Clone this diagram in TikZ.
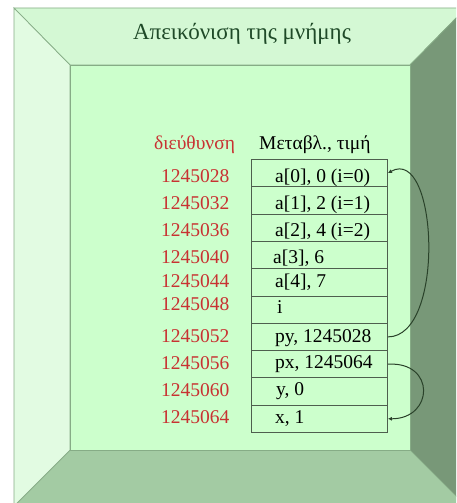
\documentclass[tikz,border=0pt]{standalone}
\usepackage{fontspec}
\setmainfont{Liberation Serif}
\usetikzlibrary{arrows.meta}
\definecolor{topb}{HTML}{D4F8D4}
\definecolor{leftb}{HTML}{E2FBE2}
\definecolor{rightb}{HTML}{789878}
\definecolor{bottomb}{HTML}{A3CBA3}
\definecolor{face}{HTML}{CCFFCC}
\definecolor{edge}{HTML}{86AC86}
\definecolor{titlec}{HTML}{1F4A28}
\definecolor{addrc}{HTML}{C83232}
\definecolor{cellline}{HTML}{4E5E4E}
\definecolor{arrowc}{HTML}{2A422A}
\begin{document}
\begin{tikzpicture}[x=1pt,y=-1pt,
  bevel/.style={draw=edge,line width=0.7pt},
  cellbox/.style={draw=cellline,line width=0.9pt,rectangle,minimum width=136pt,minimum height=27.3pt,inner sep=0pt,anchor=north west},
  celltext/.style={anchor=base west,inner sep=0pt,font=\fontsize{19.5}{20}\selectfont,text=black},
  addr/.style={anchor=base west,inner sep=0pt,font=\fontsize{19.5}{20}\selectfont,text=addrc},
  ptr/.style={draw=arrowc,line width=1pt,-{Latex[length=4pt,width=4pt]}}]
\useasboundingbox (0,0) rectangle (456,503);
\clip (0,0) rectangle (456,503);
\fill[white] (0,0) rectangle (456,503);
\coordinate (O1) at (14,8);
\coordinate (O2) at (466,8);
\coordinate (O3) at (466,506);
\coordinate (O4) at (14,506);
\coordinate (I1) at (70,65);
\coordinate (I2) at (410,65);
\coordinate (I3) at (410,450);
\coordinate (I4) at (70,450);
\filldraw[bevel,fill=topb] (O1)--(O2)--(I2)--(I1)--cycle;
\filldraw[bevel,fill=rightb] (O2)--(O3)--(I3)--(I2)--cycle;
\filldraw[bevel,fill=bottomb] (O3)--(O4)--(I4)--(I3)--cycle;
\filldraw[bevel,fill=leftb] (O4)--(O1)--(I1)--(I4)--cycle;
\filldraw[bevel,fill=face] (I1) rectangle (I3);
\node[anchor=base,inner sep=0pt,text=titlec,font=\fontsize{23}{24}\selectfont] (title) at (242,40) {Απεικόνιση της μνήμης};
\node[addr] (haddr) at (154,149) {διεύθυνση};
\node[celltext] (hval) at (259,149) {Μεταβλ., τιμή};
% cells
\node[cellbox] (c0) at (251,159.0) {};
\node[cellbox] (c1) at (251,186.3) {};
\node[cellbox] (c2) at (251,213.6) {};
\node[cellbox] (c3) at (251,240.9) {};
\node[cellbox] (c4) at (251,268.2) {};
\node[cellbox] (c5) at (251,295.5) {};
\node[cellbox] (c6) at (251,322.8) {};
\node[cellbox] (c7) at (251,350.1) {};
\node[cellbox] (c8) at (251,377.4) {};
\node[cellbox] (c9) at (251,404.7) {};
% cell texts
\node[celltext] (t0) at (275,182) {a[0], 0 (i=0)};
\node[celltext] (t1) at (275,209) {a[1], 2 (i=1)};
\node[celltext] (t2) at (275,236) {a[2], 4 (i=2)};
\node[celltext] (t3) at (273,263) {a[3], 6};
\node[celltext] (t4) at (275,287) {a[4], 7};
\node[celltext] (t5) at (277,313) {i};
\node[celltext] (t6) at (275,342) {py, 1245028};
\node[celltext] (t7) at (275,368) {px, 1245064};
\node[celltext] (t8) at (276,395) {y, 0};
\node[celltext] (t9) at (275,423) {x, 1};
% addresses
\node[addr] (a0) at (161,182) {1245028};
\node[addr] (a1) at (161,209) {1245032};
\node[addr] (a2) at (161,236) {1245036};
\node[addr] (a3) at (161,263) {1245040};
\node[addr] (a4) at (161,287) {1245044};
\node[addr] (a5) at (161,310) {1245048};
\node[addr] (a6) at (161,342) {1245052};
\node[addr] (a7) at (161,369) {1245056};
\node[addr] (a8) at (161,396) {1245060};
\node[addr] (a9) at (161,423) {1245064};
% pointers
\draw[ptr] (c6.east) .. controls +(58,0) and +(50,-28) .. (c0.east);
\draw[ptr] (c7.east) .. controls +(48,-3) and +(46,0) .. (c9.east);
\end{tikzpicture}
\end{document}
